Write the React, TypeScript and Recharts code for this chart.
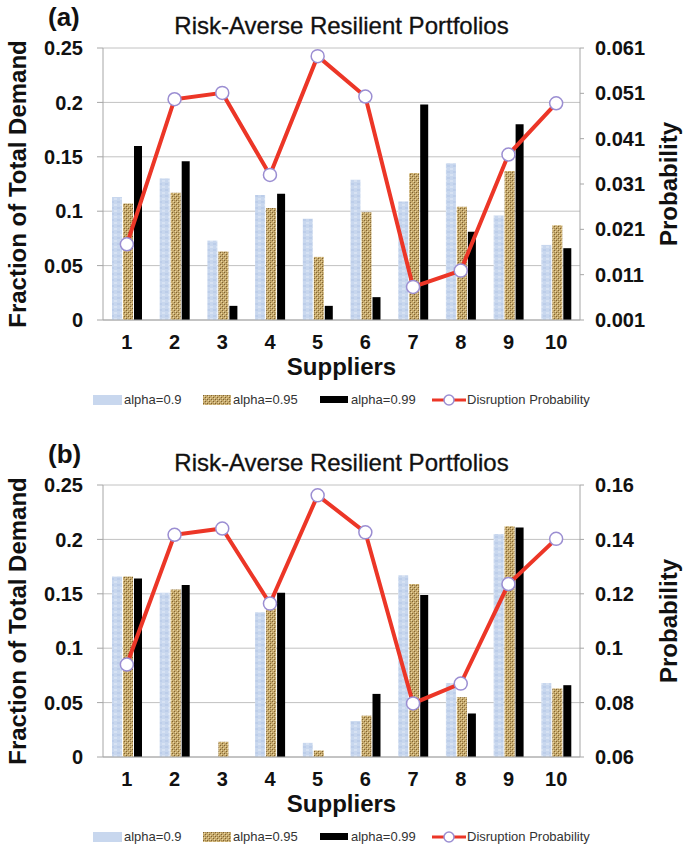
import { ComposedChart, Bar, Line, XAxis, YAxis, CartesianGrid, Legend, Label } from "recharts";

const suppliers = ["1", "2", "3", "4", "5", "6", "7", "8", "9", "10"];

// panel (a)
const alpha90A = [0.113, 0.13, 0.073, 0.115, 0.093, 0.129, 0.109, 0.144, 0.096, 0.069];
const alpha95A = [0.107, 0.117, 0.063, 0.103, 0.058, 0.099, 0.135, 0.104, 0.137, 0.087];
const alpha99A = [0.16, 0.146, 0.013, 0.116, 0.013, 0.021, 0.198, 0.081, 0.18, 0.066];
const probA = [0.0177, 0.0497, 0.0511, 0.033, 0.0592, 0.0503, 0.0083, 0.0119, 0.0375, 0.0488];

// panel (b)
const alpha90B = [0.166, 0.151, 0, 0.133, 0.013, 0.033, 0.167, 0.068, 0.205, 0.068];
const alpha95B = [0.166, 0.154, 0.014, 0.137, 0.006, 0.038, 0.159, 0.055, 0.212, 0.063];
const alpha99B = [0.164, 0.158, 0, 0.151, 0, 0.058, 0.149, 0.04, 0.211, 0.066];
const probB = [0.094, 0.1417, 0.144, 0.1164, 0.1562, 0.1426, 0.0797, 0.087, 0.1236, 0.1402];

const fracTicks = [0, 0.05, 0.1, 0.15, 0.2, 0.25];
const probTicksA = [0.001, 0.011, 0.021, 0.031, 0.041, 0.051, 0.061];
const probTicksB = [0.06, 0.08, 0.1, 0.12, 0.14, 0.16];

const legendNames = ["alpha=0.9", "alpha=0.95", "alpha=0.99", "Disruption Probability"];

const FONT = '"Liberation Sans", Arial, sans-serif';
const AXIS = "#a6a6a6";
const RED = "#ec3627";
const RING = "#9b8ed2";

const buildRows = (a90: number[], a95: number[], a99: number[], prob: number[]) =>
  suppliers.map((s, i) => ({ supplier: s, a90: a90[i], a95: a95[i], a99: a99[i], prob: prob[i] }));

const edgeTicks = suppliers.map((_, i) => i).concat(suppliers.length);

function Textures({ id }: { id: string }) {
  return (
    <defs>
      <pattern id={`light-${id}`} width="6" height="6" patternUnits="userSpaceOnUse">
        <rect width="6" height="6" fill="#c8d7ee" />
        <rect x="0" y="0" width="3" height="2" fill="#d7e2f3" />
        <rect x="3" y="3" width="3" height="2" fill="#bccde9" />
      </pattern>
      <pattern id={`tan-${id}`} width="4" height="4" patternUnits="userSpaceOnUse">
        <rect width="4" height="4" fill="#c6a96c" />
        <rect x="0" y="0" width="1" height="1" fill="#7d6232" />
        <rect x="2" y="2" width="1" height="1" fill="#7d6232" />
        <rect x="1" y="1" width="1" height="1" fill="#e8d7a6" />
        <rect x="3" y="3" width="1" height="1" fill="#e8d7a6" />
        <rect x="2" y="0" width="1" height="1" fill="#a58a52" />
      </pattern>
    </defs>
  );
}

function LegendRow({ id }: { id: string }) {
  const text = { position: "absolute" as const, top: -8, fontSize: 13, color: "#333", fontFamily: FONT };
  return (
    <div style={{ position: "relative", width: 685, height: 16 }}>
      <div style={{ position: "absolute", left: 93, top: -5, width: 29, height: 10, background: "#c8d7ee" }} />
      <span style={{ ...text, left: 124 }}>{legendNames[0]}</span>
      <svg style={{ position: "absolute", left: 203, top: -5 }} width="28" height="10">
        <rect width="28" height="10" fill={`url(#tan-${id})`} />
      </svg>
      <span style={{ ...text, left: 233 }}>{legendNames[1]}</span>
      <div style={{ position: "absolute", left: 320, top: -4, width: 28, height: 7, background: "#000" }} />
      <span style={{ ...text, left: 351 }}>{legendNames[2]}</span>
      <svg style={{ position: "absolute", left: 432, top: -8 }} width="34" height="16">
        <line x1="0" y1="8" x2="34" y2="8" stroke={RED} strokeWidth="3" />
        <circle cx="17" cy="8" r="5" fill="#fff" stroke={RING} strokeWidth="1.5" />
      </svg>
      <span style={{ ...text, left: 467 }}>{legendNames[3]}</span>
    </div>
  );
}

interface PanelProps {
  id: string;
  tag: string;
  top: number;
  rows: ReturnType<typeof buildRows>;
  probDomain: [number, number];
  probTicks: number[];
  probFormat: (v: number) => string;
}

function Panel({ id, tag, top, rows, probDomain, probTicks, probFormat }: PanelProps) {
  const tickStyle = { fontFamily: FONT, fontSize: 20, fontWeight: 700, fill: "#111" };
  return (
    <div style={{ position: "absolute", left: 0, top, width: 685, height: 437 }}>
      <div style={{ position: "absolute", left: 48, top: 2, fontFamily: FONT, fontSize: 26, fontWeight: 700, color: "#111" }}>
        {tag}
      </div>
      <div
        style={{
          position: "absolute",
          left: 0,
          width: 683,
          top: 12,
          textAlign: "center",
          fontFamily: FONT,
          fontSize: 24,
          color: "#111",
          WebkitTextStroke: "0.3px #111",
        }}
      >
        Risk-Averse Resilient Portfolios
      </div>
      <ComposedChart width={685} height={437} data={rows} margin={{ top: 48, right: 0, bottom: 47, left: 0 }} barGap={1}>
        <Textures id={id} />
        <CartesianGrid vertical={false} stroke="#c2c2c2" xAxisId="cat" yAxisId="frac" />
        {/* boundary tick marks between suppliers */}
        <XAxis
          xAxisId="edge"
          type="number"
          domain={[0, suppliers.length]}
          ticks={edgeTicks}
          tick={false}
          axisLine={false}
          tickLine={{ stroke: AXIS }}
          tickSize={6}
          height={0}
        />
        <XAxis
          xAxisId="cat"
          dataKey="supplier"
          height={70}
          tickLine={false}
          tickSize={0}
          tickMargin={15}
          axisLine={{ stroke: AXIS }}
          tick={tickStyle}
          interval={0}
        >
          <Label
            content={({ viewBox }: any) => (
              <text
                x={viewBox.x + viewBox.width / 2}
                y={viewBox.y + 46}
                textAnchor="middle"
                dominantBaseline="central"
                fontFamily={FONT}
                fontSize={24}
                fontWeight={700}
                fill="#111"
              >
                Suppliers
              </text>
            )}
          />
        </XAxis>
        <YAxis
          yAxisId="frac"
          width={103}
          domain={[0, 0.25]}
          ticks={fracTicks}
          tickFormatter={(v: number) => String(v)}
          tickSize={6}
          tickMargin={14}
          axisLine={{ stroke: AXIS }}
          tickLine={{ stroke: AXIS }}
          tick={tickStyle}
        >
          <Label
            content={({ viewBox }: any) => {
              const cy = viewBox.y + viewBox.height / 2;
              return (
                <text
                  x={26}
                  y={cy}
                  transform={`rotate(-90 26 ${cy})`}
                  textAnchor="middle"
                  fontFamily={FONT}
                  fontSize={24}
                  fontWeight={700}
                  fill="#111"
                >
                  Fraction of Total Demand
                </text>
              );
            }}
          />
        </YAxis>
        <YAxis
          yAxisId="prob"
          orientation="right"
          width={105}
          domain={probDomain}
          ticks={probTicks}
          tickFormatter={probFormat}
          tickSize={4}
          tickMargin={11}
          axisLine={{ stroke: AXIS }}
          tickLine={{ stroke: AXIS }}
          tick={tickStyle}
          allowDataOverflow
        >
          <Label
            content={({ viewBox }: any) => {
              const cy = viewBox.y + viewBox.height / 2;
              return (
                <text
                  x={677}
                  y={cy}
                  transform={`rotate(-90 677 ${cy})`}
                  textAnchor="middle"
                  fontFamily={FONT}
                  fontSize={24}
                  fontWeight={700}
                  fill="#111"
                >
                  Probability
                </text>
              );
            }}
          />
        </YAxis>
        <Bar xAxisId="cat" yAxisId="frac" dataKey="a90" name={legendNames[0]} barSize={10} fill={`url(#light-${id})`} isAnimationActive={false} />
        <Bar xAxisId="cat" yAxisId="frac" dataKey="a95" name={legendNames[1]} barSize={10} fill={`url(#tan-${id})`} isAnimationActive={false} />
        <Bar xAxisId="cat" yAxisId="frac" dataKey="a99" name={legendNames[2]} barSize={8} fill="#000" isAnimationActive={false} />
        <Line
          xAxisId="cat"
          yAxisId="prob"
          type="linear"
          dataKey="prob"
          name={legendNames[3]}
          stroke={RED}
          strokeWidth={4}
          dot={{ r: 6.5, fill: "#fff", stroke: RING, strokeWidth: 1.5 }}
          isAnimationActive={false}
        />
        <Legend
          layout="horizontal"
          verticalAlign="middle"
          align="center"
          wrapperStyle={{ top: 400, left: 0, width: 685 }}
          content={() => <LegendRow id={id} />}
        />
      </ComposedChart>
    </div>
  );
}

export default function App() {
  return (
    <div style={{ position: "absolute", left: 0, top: 0, width: 685, height: 854, background: "#fff" }}>
      <Panel
        id="a"
        tag="(a)"
        top={0}
        rows={buildRows(alpha90A, alpha95A, alpha99A, probA)}
        probDomain={[0.001, 0.061]}
        probTicks={probTicksA}
        probFormat={(v) => v.toFixed(3)}
      />
      <Panel
        id="b"
        tag="(b)"
        top={437}
        rows={buildRows(alpha90B, alpha95B, alpha99B, probB)}
        probDomain={[0.06, 0.16]}
        probTicks={probTicksB}
        probFormat={(v) => String(Number(v.toFixed(2)))}
      />
    </div>
  );
}
